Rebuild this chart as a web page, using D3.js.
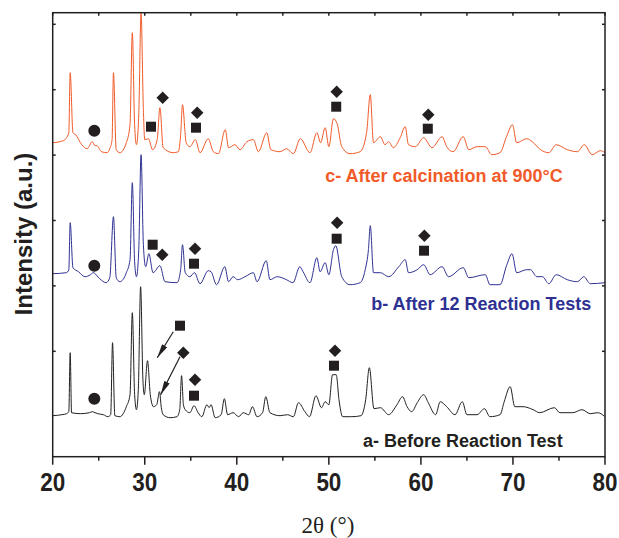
<!DOCTYPE html>
<html lang="en">
<head>
    <meta charset="UTF-8">
    <title>XRD patterns</title>
    <script src="https://d3js.org/d3.v7.min.js"></script>
    <style>
        body { margin: 0; background: #fff; }
        .frame { fill: none; stroke: #231f20; stroke-width: 1.5; }
        .tick-lbl { font-family: "Liberation Sans", Arial, sans-serif; font-weight: bold; font-size: 25.5px; fill: #231f20; }
        .ylabel { font-family: "Liberation Sans", Arial, sans-serif; font-weight: bold; font-size: 24px; fill: #231f20; }
        .xlabel { font-family: "Liberation Serif", "Times New Roman", serif; font-size: 23px; fill: #231f20; }
        .trace-lbl { font-family: "Liberation Sans", Arial, sans-serif; font-weight: bold; font-size: 18px; }
    </style>
</head>
<body>
<div id="chart"></div>
<script>
    // 2θ (degrees) and intensity (a.u.), each trace already offset
    const traceA = [
        [20.0,1],[21.0,2],[21.5,3],[21.75,5],[21.9,64],[22.05,4],[23.0,3],[24.0,4],[24.3,5],[24.6,4],[24.9,3],
        [25.5,2],[26.0,0],[26.3,2],[26.5,74],[26.75,1],[27.3,0],[28.0,10],[28.4,22],[28.65,104],[28.9,22],
        [29.1,7],[29.3,27],[29.55,130],[29.8,37],[29.95,22],[30.3,56],[30.6,22],[30.95,10],[31.3,12],[31.6,25],
        [31.8,9],[32.0,2],[32.75,-1],[33.5,0],[33.8,7],[34.0,41],[34.2,12],[34.4,7],[34.9,4],[35.35,11],
        [35.8,4],[36.2,0],[36.75,12],[37.0,9],[37.2,12],[37.65,-1],[38.3,2],[38.65,18],[39.0,2],[39.6,4],
        [40.2,0],[40.7,4],[41.3,2],[41.7,10],[42.2,0],[42.8,4],[43.15,20],[43.6,4],[44.7,1],[45.5,2],
        [46.15,0],[46.7,14],[47.4,5],[47.9,0],[48.6,21],[49.2,9],[49.6,15],[50.0,12],[50.4,42],[50.8,42],
        [51.1,17],[51.5,0],[52.5,0],[53.5,1],[54.0,17],[54.4,49],[54.9,8],[55.6,9],[56.5,2],[57.4,12],
        [58.0,20],[58.5,10],[59.0,5],[59.6,14],[60.3,22],[60.8,14],[61.6,2],[62.1,15],[62.8,10],[63.7,2],
        [64.5,15],[65.0,2],[66.1,2],[66.9,8],[67.5,0],[68.6,2],[69.05,15],[69.7,30],[70.2,10],[71.1,10],
        [72.2,7],[72.9,4],[74.5,9],[75.1,4],[76.5,4],[77.5,7],[78.4,3],[79.2,4],[80.0,0]
    ];
    const traceB = [
        [20.0,143],[21.5,144],[21.75,147],[21.9,194],[22.2,149],[22.8,145],[23.5,140],[24.1,142],[24.4,144],
        [25.1,138],[25.8,134],[26.2,139],[26.6,200],[26.9,139],[27.3,135],[28.0,144],[28.4,157],[28.65,234],
        [28.9,155],[29.1,140],[29.35,167],[29.6,262],[29.85,172],[30.1,150],[30.45,163],[30.9,144],[31.65,151],
        [32.2,135],[33.5,134],[33.9,147],[34.1,172],[34.4,144],[34.9,140],[35.4,144],[36.0,133],[36.9,146],
        [37.2,145],[37.8,132],[38.7,150],[39.1,135],[39.6,140],[40.1,137],[40.9,140],[41.8,144],[42.2,135],
        [43.2,156],[43.6,137],[44.4,140],[45.4,137],[46.1,134],[46.85,150],[47.2,145],[47.95,134],[48.7,159],
        [49.05,145],[49.6,154],[50.0,142],[50.5,167],[50.75,171],[51.4,140],[52.3,132],[53.4,134],[53.95,147],
        [54.3,167],[54.5,191],[54.85,144],[55.6,144],[56.5,140],[57.6,150],[58.3,157],[58.65,144],[59.6,147],
        [60.3,152],[61.0,142],[62.3,150],[63.0,140],[64.6,149],[65.2,139],[67.0,142],[67.5,132],[68.6,132],
        [69.3,151],[69.9,163],[70.4,144],[71.5,147],[71.9,147],[72.6,140],[73.2,140],[73.9,133],[74.7,142],
        [75.9,137],[77.0,135],[77.7,140],[78.4,133],[80.0,134]
    ];
    const traceC = [
        [20.0,274],[21.15,276],[21.5,279],[21.75,284],[21.9,344],[22.2,284],[22.5,282],[23.15,272],[23.75,268],
        [24.3,275],[24.6,271],[24.8,271],[25.3,265],[25.9,264],[26.2,268],[26.45,277],[26.6,344],[26.9,267],
        [27.3,264],[28.0,274],[28.4,292],[28.65,384],[28.9,292],[29.1,272],[29.35,302],[29.6,404],[29.85,307],
        [30.0,277],[30.4,278],[30.85,267],[31.35,277],[31.65,309],[32.0,269],[33.1,264],[33.65,265],[33.9,282],
        [34.1,312],[34.5,274],[34.9,270],[35.5,277],[36.0,264],[36.9,278],[37.45,265],[38.0,263],[38.75,287],
        [39.1,269],[39.8,272],[40.35,267],[41.1,275],[41.8,277],[42.35,265],[43.25,284],[43.7,267],[44.7,265],
        [45.4,268],[46.15,263],[46.9,278],[47.95,264],[48.7,284],[49.1,274],[49.6,289],[50.0,270],[50.5,298],
        [50.9,293],[51.4,270],[52.3,263],[53.4,265],[54.1,284],[54.5,322],[54.85,274],[55.6,280],[56.1,272],
        [56.5,275],[57.0,269],[57.75,279],[58.3,290],[58.65,272],[59.4,270],[60.3,279],[61.2,269],[62.3,280],
        [62.8,270],[63.5,265],[64.6,280],[65.2,267],[66.1,270],[67.0,270],[67.7,262],[68.6,264],[69.3,280],
        [69.95,292],[70.4,274],[71.5,278],[72.1,275],[73.0,267],[73.9,264],[74.7,272],[75.9,267],[77.0,265],
        [77.75,272],[78.6,262],[79.5,266],[80.0,264]
    ];

    const traceColors = ["#231f20", "#2e3192", "#f15a29"];
    const traceNames = ["a- Before Reaction Test", "b- After 12 Reaction Tests", "c- After calcination at 900°C"];
    const labelPos = [[53.7, -30], [54.6, 107], [49.6, 235]];

    // phase markers: [2θ, intensity, shape]
    const markers = [
        [24.52,286,"circle"],[30.68,290,"square"],[31.95,319,"diamond"],[35.7,304,"diamond"],[35.57,289,"square"],
        [50.85,325,"diamond"],[50.8,310,"square"],[60.8,302,"diamond"],[60.75,288,"square"],
        [24.52,151,"circle"],[30.86,172,"square"],[31.9,162,"diamond"],[35.46,168,"diamond"],[35.35,153,"square"],
        [50.9,194,"diamond"],[50.85,178,"square"],[60.38,181,"diamond"],[60.34,166,"square"],
        [24.52,18,"circle"],[33.83,91,"square"],[34.19,64,"diamond"],[35.46,37,"diamond"],[35.35,21,"square"],
        [50.67,66,"diamond"],[50.56,51,"square"]
    ];
    const arrows = [[[33.10, 85], [31.36, 59]], [[33.83, 60], [31.73, 22]]];

    const xTicks = [20, 30, 40, 50, 60, 70, 80];
    const xMinor = [25, 35, 45, 55, 65, 75];
    const yStep = 65.4;
    const yTicks = [1, 2, 3, 4, 5, 6].map(k => k * yStep);

    const W = 619, H = 538;
    const plotL = 52.7, plotR = 605, plotT = 12.7, plotB = 456.7;

    const svg = d3.select("#chart").append("svg")
        .attr("width", W).attr("height", H);

    const x = d3.scaleLinear().domain([20, 80]).range([plotL, plotR]);
    const y = d3.scaleLinear().domain([-40, 404]).range([plotB, plotT]);

    // arrowhead
    svg.append("defs").append("marker")
        .attr("id", "head")
        .attr("viewBox", "0 0 14 6")
        .attr("refX", 14).attr("refY", 3)
        .attr("markerWidth", 14).attr("markerHeight", 6)
        .attr("markerUnits", "userSpaceOnUse")
        .attr("orient", "auto")
        .append("path").attr("d", "M0,0 L14,3 L0,6 Z").attr("fill", "#231f20");

    // traces
    const line = d3.line()
        .x(d => x(d[0]))
        .y(d => y(d[1]))
        .curve(d3.curveMonotoneX);
    [traceA, traceB, traceC].forEach((t, i) => {
        svg.append("path")
            .datum(t)
            .attr("fill", "none")
            .attr("stroke", traceColors[i])
            .attr("stroke-width", 1)
            .attr("stroke-linejoin", "round")
            .attr("d", line);

        svg.append("text")
            .attr("class", "trace-lbl")
            .attr("x", x(labelPos[i][0]))
            .attr("y", y(labelPos[i][1]))
            .attr("fill", traceColors[i])
            .text(traceNames[i]);
    });

    // markers
    const sym = {
        circle: d3.symbol().type(d3.symbolCircle).size(113),
        square: d3.symbol().type(d3.symbolSquare).size(100),
        diamond: d3.symbol().type(d3.symbolSquare).size(78)
    };
    svg.selectAll(".mk")
        .data(markers)
        .enter()
        .append("path")
        .attr("d", d => sym[d[2]]())
        .attr("transform", d => `translate(${x(d[0])},${y(d[1])})` + (d[2] === "diamond" ? " rotate(45)" : ""))
        .attr("fill", "#231f20");

    arrows.forEach(a => {
        svg.append("line")
            .attr("x1", x(a[0][0])).attr("y1", y(a[0][1]))
            .attr("x2", x(a[1][0])).attr("y2", y(a[1][1]))
            .attr("stroke", "#231f20")
            .attr("stroke-width", 1.2)
            .attr("marker-end", "url(#head)");
    });

    // frame and ticks
    svg.append("rect")
        .attr("class", "frame")
        .attr("x", plotL).attr("y", plotT)
        .attr("width", plotR - plotL).attr("height", plotB - plotT);

    const tickG = svg.append("g").attr("stroke", "#231f20").attr("stroke-width", 1.5);
    xTicks.forEach(v => {
        tickG.append("line").attr("x1", x(v)).attr("x2", x(v)).attr("y1", plotB).attr("y2", plotB + 8);
        tickG.append("line").attr("x1", x(v)).attr("x2", x(v)).attr("y1", plotT).attr("y2", plotT + 3);
    });
    xMinor.forEach(v => {
        tickG.append("line").attr("x1", x(v)).attr("x2", x(v)).attr("y1", plotB).attr("y2", plotB + 4);
        tickG.append("line").attr("x1", x(v)).attr("x2", x(v)).attr("y1", plotT).attr("y2", plotT + 3);
    });
    yTicks.forEach(v => {
        tickG.append("line").attr("x1", plotL).attr("x2", plotL + 3).attr("y1", y(v)).attr("y2", y(v));
        tickG.append("line").attr("x1", plotR).attr("x2", plotR - 3).attr("y1", y(v)).attr("y2", y(v));
    });

    // tick labels are a condensed bold face in the original
    svg.selectAll(".tick-lbl")
        .data(xTicks)
        .enter()
        .append("text")
        .attr("class", "tick-lbl")
        .attr("transform", d => `translate(${x(d)},490.5) scale(0.88,1)`)
        .attr("text-anchor", "middle")
        .text(d => d);

    svg.append("text")
        .attr("class", "xlabel")
        .attr("x", 328)
        .attr("y", 533)
        .attr("text-anchor", "middle")
        .text("2θ (°)");

    svg.append("text")
        .attr("class", "ylabel")
        .attr("transform", "translate(32,234) rotate(-90)")
        .attr("text-anchor", "middle")
        .text("Intensity (a.u.)");
</script>
</body>
</html>
